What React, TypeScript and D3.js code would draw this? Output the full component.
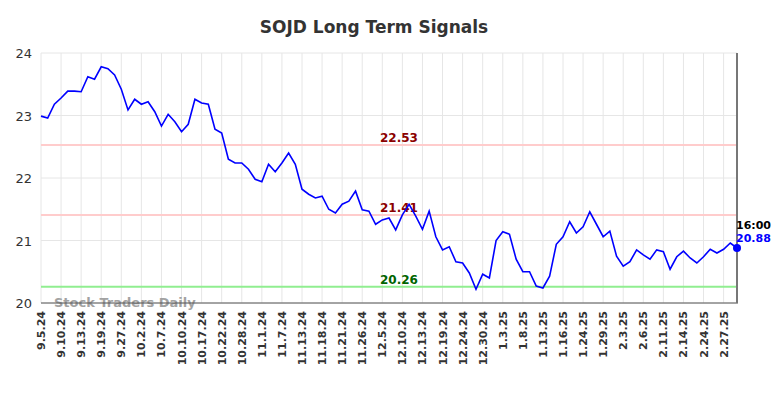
import React, { useEffect, useRef } from 'react'
import * as d3 from 'd3'

const dates = [
  '9.5.24', '9.10.24', '9.13.24', '9.19.24', '9.27.24', '10.2.24', '10.7.24', '10.10.24',
  '10.17.24', '10.22.24', '10.28.24', '11.1.24', '11.7.24', '11.13.24', '11.18.24', '11.21.24',
  '11.26.24', '12.5.24', '12.10.24', '12.13.24', '12.19.24', '12.24.24', '12.30.24', '1.3.25',
  '1.8.25', '1.13.25', '1.16.25', '1.24.25', '1.29.25', '2.3.25', '2.6.25', '2.11.25',
  '2.14.25', '2.24.25', '2.27.25',
]

const prices = [
  22.99, 22.96, 23.18, 23.28, 23.39, 23.39, 23.38, 23.62, 23.58, 23.78,
  23.75, 23.65, 23.42, 23.09, 23.26, 23.18, 23.22, 23.06, 22.83, 23.02,
  22.9, 22.74, 22.86, 23.26, 23.2, 23.18, 22.78, 22.72, 22.3, 22.24,
  22.24, 22.14, 21.98, 21.94, 22.22, 22.1, 22.24, 22.4, 22.22, 21.82,
  21.74, 21.68, 21.71, 21.5, 21.44, 21.58, 21.63, 21.79, 21.49, 21.47,
  21.26, 21.33, 21.36, 21.17, 21.41, 21.58, 21.39, 21.18, 21.47, 21.06,
  20.85, 20.9, 20.66, 20.64, 20.48, 20.22, 20.46, 20.4, 21.0, 21.14,
  21.1, 20.7, 20.5, 20.5, 20.27, 20.24, 20.43, 20.94, 21.06, 21.3,
  21.12, 21.22, 21.46, 21.26, 21.06, 21.15, 20.75, 20.59, 20.66, 20.85,
  20.77, 20.7, 20.85, 20.82, 20.54, 20.74, 20.83, 20.72, 20.64, 20.74,
  20.86, 20.8, 20.86, 20.96, 20.88,
]

const yTicks = [20, 21, 22, 23, 24]
const signals = [
  { value: 22.53, line: '#ffcccc', text: '#8b0000' },
  { value: 21.41, line: '#ffcccc', text: '#8b0000' },
  { value: 20.26, line: '#90ee90', text: '#006400' },
]
const lastTime = '16:00'

const W = 784
const H = 398
const margin = { top: 53, right: 47, bottom: 95, left: 41 }

export default function App() {
  const ref = useRef<SVGSVGElement>(null)

  useEffect(() => {
    const svg = d3.select(ref.current)
    svg.selectAll('*').remove()
    const font = 'DejaVu Sans, sans-serif'

    const x = d3
      .scaleLinear()
      .domain([0, prices.length - 1])
      .range([margin.left, W - margin.right])
    const y = d3
      .scaleLinear()
      .domain([20, 24])
      .range([H - margin.bottom, margin.top])

    const tickIdx = dates.map((_, i) => i * 3)

    // grid
    const grid = svg.append('g').attr('stroke', '#e6e6e6').attr('stroke-width', 1)
    grid
      .selectAll('line.v')
      .data(tickIdx)
      .join('line')
      .attr('x1', (d) => x(d))
      .attr('x2', (d) => x(d))
      .attr('y1', y(24))
      .attr('y2', y(20))
    grid
      .selectAll('line.h')
      .data(yTicks)
      .join('line')
      .attr('x1', x(0))
      .attr('x2', x(prices.length - 1))
      .attr('y1', (d) => y(d))
      .attr('y2', (d) => y(d))

    // y labels
    svg
      .append('g')
      .attr('font-family', font)
      .attr('font-size', 13)
      .attr('fill', '#333')
      .attr('text-anchor', 'end')
      .selectAll('text')
      .data(yTicks)
      .join('text')
      .attr('x', 32)
      .attr('y', (d) => y(d) + 5)
      .text((d) => d)

    // x labels
    svg
      .append('g')
      .attr('font-family', font)
      .attr('font-size', 11)
      .attr('font-weight', 'bold')
      .attr('fill', '#333')
      .attr('text-anchor', 'end')
      .selectAll('text')
      .data(dates)
      .join('text')
      .attr('transform', (_, i) => `translate(${x(i * 3) + 4},${y(20) + 8}) rotate(-90)`)
      .text((d) => d)

    // signal lines
    signals.forEach((s) => {
      svg
        .append('line')
        .attr('x1', x(0))
        .attr('x2', x(prices.length - 1))
        .attr('y1', y(s.value))
        .attr('y2', y(s.value))
        .attr('stroke', s.line)
        .attr('stroke-width', 2)
      svg
        .append('text')
        .attr('x', 399)
        .attr('y', y(s.value) - 3)
        .attr('text-anchor', 'middle')
        .attr('font-family', font)
        .attr('font-size', 12)
        .attr('font-weight', 'bold')
        .attr('fill', s.text)
        .text(s.value.toFixed(2))
    })

    // watermark
    svg
      .append('text')
      .attr('x', 54)
      .attr('y', y(20) + 4)
      .attr('font-family', font)
      .attr('font-size', 13)
      .attr('font-weight', 'bold')
      .attr('fill', '#999')
      .attr('opacity', 0.9)
      .text('Stock Traders Daily')

    // axes
    svg
      .append('line')
      .attr('x1', x(0))
      .attr('x2', x(prices.length - 1) + 1)
      .attr('y1', y(20))
      .attr('y2', y(20))
      .attr('stroke', '#555')
      .attr('stroke-width', 1)
    svg
      .append('line')
      .attr('x1', x(prices.length - 1))
      .attr('x2', x(prices.length - 1))
      .attr('y1', y(24))
      .attr('y2', y(20))
      .attr('stroke', '#777')
      .attr('stroke-width', 2)

    // price line
    const line = d3
      .line<number>()
      .x((_, i) => x(i))
      .y((d) => y(d))
    svg
      .append('path')
      .datum(prices)
      .attr('d', line)
      .attr('fill', 'none')
      .attr('stroke', '#0000ff')
      .attr('stroke-width', 1.6)

    const last = prices.length - 1
    svg
      .append('circle')
      .attr('cx', x(last))
      .attr('cy', y(prices[last]))
      .attr('r', 4)
      .attr('fill', '#0000ff')
    svg
      .append('text')
      .attr('x', x(last) - 1)
      .attr('y', y(prices[last]) - 19)
      .attr('font-family', font)
      .attr('font-size', 11)
      .attr('font-weight', 'bold')
      .attr('fill', '#000')
      .text(lastTime)
    svg
      .append('text')
      .attr('x', x(last) - 1)
      .attr('y', y(prices[last]) - 6)
      .attr('font-family', font)
      .attr('font-size', 11)
      .attr('font-weight', 'bold')
      .attr('fill', '#0000ff')
      .text(prices[last].toFixed(2))

    // title
    svg
      .append('text')
      .attr('x', 374)
      .attr('y', 33)
      .attr('text-anchor', 'middle')
      .attr('font-family', font)
      .attr('font-size', 17)
      .attr('font-weight', 'bold')
      .attr('fill', '#333')
      .text('SOJD Long Term Signals')
  }, [])

  return (
    <svg
      ref={ref}
      width={W}
      height={H}
      style={{ position: 'absolute', left: 0, top: 0, background: '#fff' }}
    />
  )
}
